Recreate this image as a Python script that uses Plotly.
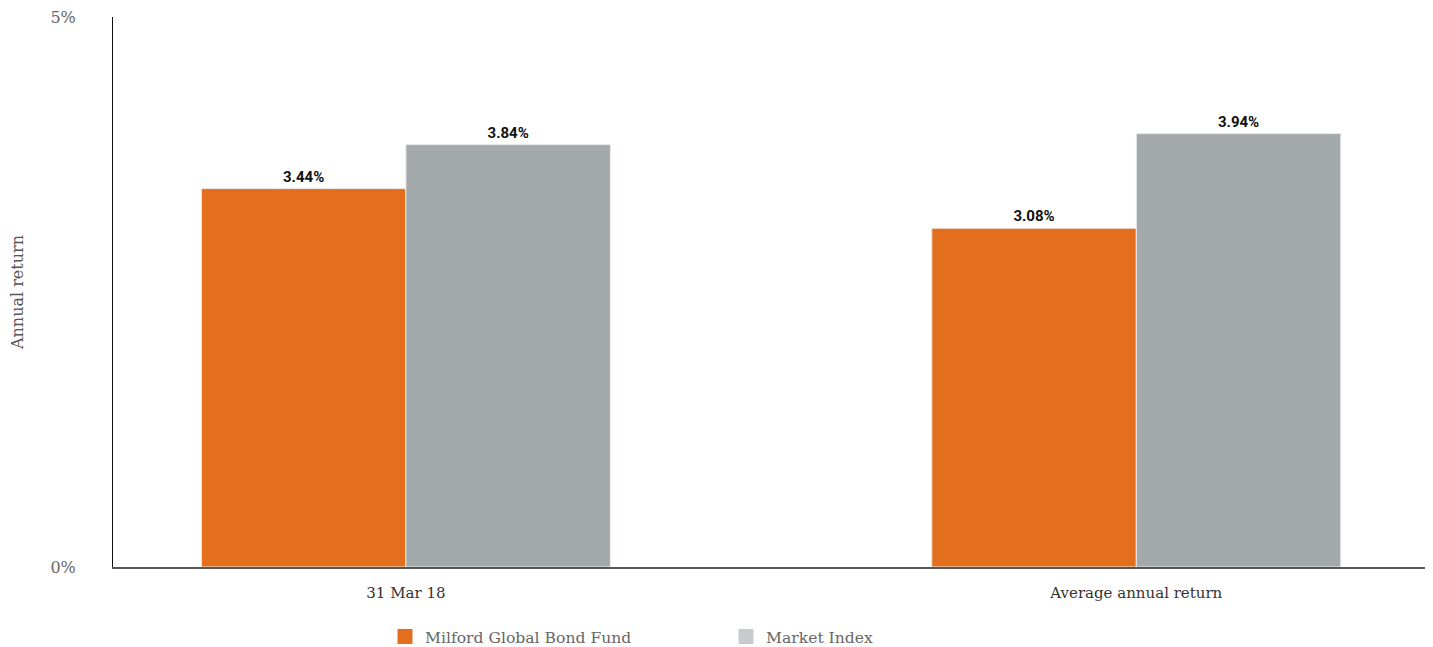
import plotly.graph_objects as go

categories = ["31 Mar 18", "Average annual return"]
fund_values = [3.44, 3.08]
index_values = [3.84, 3.94]
series_names = ["Milford Global Bond Fund", "Market Index"]
y_tick_vals = [0, 5]
y_tick_text = ["0%", "5%"]

ORANGE = "#e26e1e"
GRAY = "#a3a9aa"
GRAY_LEGEND = "#c8cacd"
SERIF = "DejaVu Serif"
LABEL_FONT = "Roboto"

fig = go.Figure()
for vals, color, name in [(fund_values, ORANGE, series_names[0]), (index_values, GRAY, series_names[1])]:
    fig.add_trace(go.Bar(
        x=categories, y=vals, name=name, showlegend=False,
        marker=dict(color=color, line=dict(color="#ececec", width=1)),
        text=[f"{v:.2f}%" for v in vals], textposition="outside",
        textfont=dict(family=LABEL_FONT, size=15, color="#111", weight="bold"),
        cliponaxis=False,
    ))

for name, color in [(series_names[0], ORANGE), (series_names[1], GRAY_LEGEND)]:
    fig.add_trace(go.Scatter(
        x=[None], y=[None], mode="markers", name=name,
        marker=dict(symbol="square", size=15, color=color),
    ))

fig.update_layout(
    width=1425, height=639,
    margin=dict(l=105, r=6, t=9, b=80, autoexpand=False),
    paper_bgcolor="white", plot_bgcolor="white",
    barmode="group", bargap=0.44, bargroupgap=0,
    font=dict(family=SERIF, size=15, color="#555"),
    legend=dict(orientation="h", x=0.207, xanchor="left", xref="paper",
                y=0.016, yanchor="middle", yref="container",
                font=dict(family=SERIF, size=15.6, color="#666"),
                entrywidth=296, entrywidthmode="pixels", itemwidth=30),
    xaxis=dict(range=[-0.401, 1.398], showline=True, linecolor="#555", linewidth=1.5,
               showgrid=False, ticks="", automargin=False, ticklabelstandoff=11,
               tickfont=dict(family=SERIF, size=15, color="#333"),
               zeroline=False, fixedrange=True),
    yaxis=dict(range=[0, 5], tickvals=y_tick_vals, ticktext=y_tick_text,
               showline=True, linecolor="#111", linewidth=1, automargin=False,
               showgrid=False, zeroline=False, ticks="", ticklabeloverflow="allow",
               ticklabelstandoff=33,
               tickfont=dict(family=SERIF, size=16, color="#666"),
               title=dict(text="Annual return", font=dict(family=SERIF, size=16, color="#555"), standoff=29)),
)

fig.write_html("out.html")
